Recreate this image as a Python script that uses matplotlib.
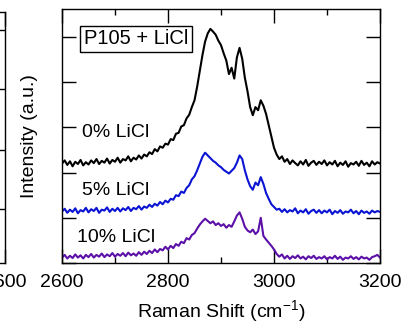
import numpy as np
import matplotlib
matplotlib.use("Agg")
import matplotlib.pyplot as plt

plt.rcParams['font.family'] = ['Liberation Sans', 'DejaVu Sans']
plt.rcParams['mathtext.fontset'] = 'custom'
plt.rcParams['mathtext.rm'] = 'Liberation Sans'
plt.rcParams['mathtext.it'] = 'Liberation Sans:italic'

# Raman shift grid (cm-1), 5 cm-1 steps from 2600 to 3200
shift = list(range(2600, 3201, 5))

# 0% LiCl (offset, black)
licl_0 = [
    2.20, 2.27, 2.17, 2.25, 2.14, 2.24, 2.19, 2.28, 2.16, 2.23,
    2.18, 2.27, 2.21, 2.30, 2.19, 2.26, 2.22, 2.31, 2.20, 2.28,
    2.24, 2.33, 2.22, 2.30, 2.27, 2.36, 2.25, 2.33, 2.29, 2.38,
    2.31, 2.40, 2.36, 2.45, 2.41, 2.52, 2.47, 2.58, 2.55, 2.64,
    2.62, 2.74, 2.72, 2.86, 2.88, 3.02, 3.05, 3.20, 3.28, 3.45,
    3.60, 3.90, 4.25, 4.60, 4.90, 5.08, 5.18, 5.12, 5.05, 4.92,
    4.82, 4.64, 4.48, 4.18, 4.32, 4.08, 4.55, 4.76, 4.52, 4.10,
    3.80, 3.45, 3.27, 3.45, 3.38, 3.60, 3.48, 3.30, 3.05, 2.80,
    2.55, 2.40, 2.30, 2.36, 2.24, 2.30, 2.19, 2.27, 2.21, 2.16,
    2.25, 2.18, 2.28, 2.15, 2.22, 2.26, 2.17, 2.24, 2.19, 2.27,
    2.16, 2.23, 2.18, 2.26, 2.14, 2.22, 2.17, 2.25, 2.13, 2.21,
    2.18, 2.24, 2.15, 2.26, 2.17, 2.22, 2.14, 2.25, 2.18, 2.23,
    2.20,
]

# 5% LiCl (offset, blue)
licl_5 = [
    1.14, 1.20, 1.11, 1.18, 1.13, 1.21, 1.10, 1.17, 1.14, 1.22,
    1.12, 1.19, 1.15, 1.22, 1.11, 1.18, 1.16, 1.23, 1.13, 1.20,
    1.15, 1.22, 1.14, 1.21, 1.17, 1.24, 1.15, 1.22, 1.19, 1.26,
    1.18, 1.25, 1.22, 1.29, 1.24, 1.31, 1.27, 1.35, 1.30, 1.38,
    1.34, 1.42, 1.40, 1.50, 1.48, 1.58, 1.55, 1.66, 1.72, 1.85,
    1.92, 2.05, 2.20, 2.35, 2.44, 2.38, 2.32, 2.26, 2.22, 2.16,
    2.12, 2.06, 2.02, 1.98, 2.04, 2.10, 2.22, 2.38, 2.30, 2.05,
    1.85, 1.70, 1.62, 1.78, 1.72, 1.90, 1.75, 1.55, 1.42, 1.30,
    1.24, 1.18, 1.20, 1.13, 1.19, 1.12, 1.17, 1.14, 1.21, 1.10,
    1.16, 1.12, 1.19, 1.09, 1.15, 1.18, 1.11, 1.17, 1.10, 1.16,
    1.12, 1.18, 1.08, 1.15, 1.11, 1.17, 1.09, 1.14, 1.12, 1.18,
    1.10, 1.15, 1.08, 1.16, 1.11, 1.14, 1.09, 1.16, 1.12, 1.15,
    1.13,
]

# 10% LiCl (purple)
licl_10 = [
    0.12, 0.18, 0.10, 0.16, 0.11, 0.19, 0.12, 0.17, 0.10, 0.18,
    0.13, 0.20, 0.12, 0.18, 0.14, 0.21, 0.13, 0.19, 0.15, 0.22,
    0.14, 0.20, 0.16, 0.22, 0.15, 0.23, 0.17, 0.21, 0.16, 0.24,
    0.18, 0.25, 0.20, 0.27, 0.22, 0.30, 0.24, 0.31, 0.28, 0.36,
    0.30, 0.38, 0.33, 0.42, 0.38, 0.47, 0.44, 0.55, 0.52, 0.62,
    0.66, 0.76, 0.85, 0.92, 0.98, 0.93, 0.88, 0.92, 0.84, 0.88,
    0.82, 0.86, 0.78, 0.84, 0.80, 0.92, 1.05, 1.12, 0.98, 0.80,
    0.72, 0.68, 0.74, 0.64, 0.70, 1.00, 0.60, 0.52, 0.45, 0.38,
    0.30, 0.20, 0.14, 0.19, 0.10, 0.16, 0.09, 0.15, 0.11, 0.17,
    0.10, 0.14, 0.08, 0.15, 0.11, 0.16, 0.09, 0.13, 0.10, 0.15,
    0.08, 0.13, 0.10, 0.16, 0.09, 0.14, 0.07, 0.12, 0.10, 0.15,
    0.09, 0.13, 0.08, 0.14, 0.10, 0.12, 0.07, 0.13, 0.15, 0.18,
    0.12,
]

labels = ["0% LiCl", "5% LiCl", "10% LiCl"]
colors = ["black", "#0a14d2", "#5b10a8"]

W, H = 415, 324
fig = plt.figure(figsize=(W / 100, H / 100), dpi=100)

# main panel
ax = fig.add_axes([62 / W, 1 - 263 / H, 318 / W, 254 / H])
for y, c in zip([licl_0, licl_5, licl_10], colors):
    ax.plot(shift, y, color=c, lw=1.5)

ax.set_xlim(2600, 3200)
ax.set_ylim(0, 5.62)
ax.set_xticks([2600, 2800, 3000, 3200])
ax.set_xticks([2700, 2900, 3100], minor=True)
ax.set_yticks([0, 1, 2, 3, 4, 5])
ax.set_yticklabels([])
ax.tick_params(which='both', direction='in', top=True, right=True, width=1,
               labelsize=14, pad=8)
ax.tick_params(which='major', length=10)
ax.tick_params(which='minor', length=4.5)
for s in ax.spines.values():
    s.set_linewidth(1)

ax.set_xlabel('Raman Shift (cm$^{-1}$)', fontsize=14, labelpad=5)
ax.set_ylabel('Intensity (a.u.)', fontsize=14)
ax.yaxis.set_label_coords(-0.075, 0.5)

ax.text(2740, 4.96, "P105 + LiCl", fontsize=14.5, ha='center', va='center',
        bbox=dict(boxstyle='square,pad=0.18', fc='white', ec='black', lw=1))
for lab, yy in zip(labels, [2.89, 1.6, 0.56]):
    ax.text(2702, yy, lab, fontsize=14, ha='center', va='center')

# edge of the neighbouring panel on the left
ax0 = fig.add_axes([(5 - 318) / W, 1 - 263 / H, 318 / W, 251 / H])
ax0.set_xlim(2600, 3600)
ax0.set_ylim(0, 4.18)
ax0.set_xticks([3600])
ax0.set_yticks([0.9, 1.88, 2.9, 3.88])
ax0.set_yticklabels([])
ax0.tick_params(which='both', direction='in', top=True, right=True, width=1,
                length=10, labelsize=14, pad=8)
for s in ax0.spines.values():
    s.set_linewidth(1)

fig.savefig("out.png", dpi=100)
